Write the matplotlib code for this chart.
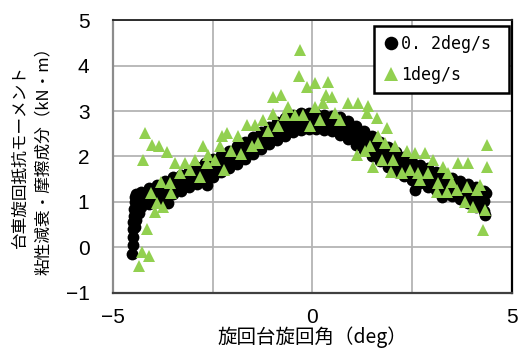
import matplotlib
matplotlib.use('Agg')
import matplotlib.pyplot as plt
from matplotlib.ticker import MultipleLocator


# ----- data -----
# 0.2deg/s : steep start at the left end
LEFT_X = [-4.52, -4.51, -4.50, -4.50, -4.49, -4.48, -4.47, -4.46, -4.45, -4.42,
          -4.40, -4.38, -4.36, -4.33, -4.30, -4.42, -4.44]
LEFT_Y = [-0.15, 0.05, 0.22, 0.40, 0.55, 0.70, 0.85, 1.00, 1.12, 1.18,
          1.05, 0.90, 0.75, 1.10, 0.95, 0.60, 0.45]

# 0.2deg/s : dense band (upper edge, middle, lower edge)
BAND_X = [-4.3, -4.1, -3.9, -3.7, -3.5, -3.3, -3.1, -2.9, -2.7, -2.5, -2.3,
          -2.1, -1.9, -1.7, -1.5, -1.3, -1.1, -0.9, -0.7, -0.5, -0.3, -0.1,
          0.1, 0.3, 0.5, 0.7, 0.9, 1.1, 1.3, 1.5, 1.7, 1.9, 2.1, 2.3, 2.5,
          2.7, 2.9, 3.1, 3.3, 3.5, 3.7, 3.9, 4.1, 4.3]
BAND_HI = [1.22, 1.30, 1.38, 1.46, 1.54, 1.60, 1.68, 1.76, 1.85, 1.94, 2.03,
           2.12, 2.22, 2.32, 2.43, 2.54, 2.65, 2.75, 2.85, 2.92, 2.96, 2.95,
           2.93, 2.92, 2.90, 2.86, 2.78, 2.66, 2.55, 2.44, 2.32, 2.20, 2.09,
           1.98, 1.89, 1.81, 1.74, 1.67, 1.60, 1.53, 1.46, 1.39, 1.32, 1.25]
BAND_MID = [1.05, 1.12, 1.20, 1.28, 1.36, 1.42, 1.50, 1.58, 1.66, 1.75, 1.84,
            1.93, 2.03, 2.13, 2.24, 2.35, 2.46, 2.56, 2.65, 2.73, 2.77, 2.77,
            2.76, 2.75, 2.72, 2.67, 2.58, 2.46, 2.35, 2.23, 2.11, 1.99, 1.88,
            1.78, 1.69, 1.61, 1.54, 1.47, 1.40, 1.33, 1.26, 1.18, 1.10, 1.02]
BAND_LO = [0.88, 0.95, 1.02, 1.10, 1.18, 1.25, 1.32, 1.40, 1.48, 1.56, 1.65,
           1.74, 1.84, 1.94, 2.05, 2.16, 2.27, 2.36, 2.45, 2.53, 2.58, 2.60,
           2.60, 2.58, 2.55, 2.48, 2.38, 2.26, 2.14, 2.02, 1.90, 1.78, 1.67,
           1.57, 1.48, 1.41, 1.34, 1.27, 1.20, 1.13, 1.06, 0.98, 0.89, 0.80]

# 0.2deg/s : a few loose points
LOOSE_X = [-2.64, 2.57, 3.24, 4.32, 4.35, -3.62]
LOOSE_Y = [1.37, 1.26, 1.12, 0.71, 1.20, 0.98]

# 1deg/s
FAST_X = [-4.20, -4.24, -4.01, -3.84, -3.65, -4.06, -3.90, -3.95, -3.74, -4.14,
          -4.28, -4.09, -4.34, -3.80, -3.55, -3.57, -3.45, -3.32, -3.20, -3.07,
          -2.94, -2.82, -2.75, -2.61, -2.65, -2.44, -2.32, -2.28, -2.15, -2.22,
          -2.03, -1.86, -1.78, -1.65, -1.52, -1.44, -1.36, -1.23, -1.11, -1.00,
          -0.79, -0.98, -0.86, -0.69, -0.61, -0.44, -0.31, -0.33, -0.15, 0.06,
          -0.06, -0.23, 0.06, 0.19, 0.27, 0.40, 0.34, 0.48, 0.56, 0.69,
          0.90, 1.15, 1.40, 1.36, 1.61, 1.86, 1.65, 1.82, 2.07, 1.11,
          1.32, 1.52, 1.44, 1.73, 2.03, 2.24, 2.36, 2.57, 2.82, 2.44,
          2.65, 2.90, 2.69, 3.03, 3.15, 3.28, 3.40, 3.65, 3.90, 3.49,
          3.61, 3.82, 3.86, 4.03, 4.12, 4.20, 4.37, 4.37, 4.32, 4.27,
          3.11, 3.36, 1.98]
FAST_Y = [2.51, 1.92, 2.25, 2.24, 2.09, 1.19, 0.97, 0.77, 0.90, 0.41,
          -0.11, -0.19, -0.41, 1.45, 1.20, 1.41, 1.85, 1.63, 1.85, 1.70,
          1.92, 1.56, 2.24, 2.03, 1.85, 1.92, 2.22, 2.45, 2.51, 1.70,
          2.11, 2.44, 2.05, 2.69, 2.22, 2.69, 2.29, 2.80, 2.55, 3.31,
          3.35, 2.93, 2.66, 2.91, 3.09, 2.91, 4.34, 3.77, 3.53, 3.61,
          2.66, 2.91, 3.09, 2.80, 3.17, 3.64, 3.35, 3.31, 2.95, 2.80,
          3.17, 3.17, 3.11, 2.95, 2.84, 2.62, 2.44, 2.29, 2.22, 2.03,
          2.11, 1.78, 2.22, 1.92, 1.92, 1.63, 2.11, 2.07, 2.07, 1.70,
          1.63, 1.63, 1.48, 1.92, 1.41, 1.78, 1.63, 1.85, 1.86, 1.45,
          1.26, 1.01, 1.34, 0.90, 1.26, 1.37, 2.25, 1.78, 0.82, 0.38,
          1.23, 1.23, 1.67]

SERIES_NAMES = ['0. 2deg/s', '1deg/s']
X_LABEL = '旋回台旋回角（deg）'
Y_LABEL_1 = '台車旋回抵抗モーメント'
Y_LABEL_2 = '粘性減衰・摩擦成分（kN・m）'

JP_FONT = ['Noto Sans CJK JP', 'DejaVu Sans']
NUM_FONT = ['Liberation Sans Narrow', 'Liberation Sans', 'DejaVu Sans']
BLACK = '#000000'
GREEN = '#92D050'

fig = plt.figure(figsize=(5.2, 3.56), dpi=100)
ax = fig.add_axes([0.2173, 0.177, 0.7673, 0.7668])

slow_x = LEFT_X + BAND_X + BAND_X + BAND_X + LOOSE_X
slow_y = LEFT_Y + BAND_HI + BAND_MID + BAND_LO + LOOSE_Y

ax.plot(slow_x, slow_y, 'o', color=BLACK, markersize=8.5, markeredgewidth=0,
        label=SERIES_NAMES[0], zorder=3)
ax.plot(FAST_X, FAST_Y, '^', color=GREEN, markersize=8.5, markeredgewidth=0,
        label=SERIES_NAMES[1], zorder=4)

ax.set_xlim(-5, 5)
ax.set_ylim(-1, 5)
ax.xaxis.set_major_locator(MultipleLocator(5))
ax.xaxis.set_minor_locator(MultipleLocator(2.5))
ax.yaxis.set_major_locator(MultipleLocator(1))
ax.grid(which='both', color='#b4b4b4', linewidth=1.3, zorder=0)
ax.set_axisbelow(True)
ax.tick_params(which='both', length=0)
ax.tick_params(axis='x', pad=10.5)
ax.tick_params(axis='y', pad=17)
for lab in ax.get_xticklabels() + ax.get_yticklabels():
    lab.set_family(NUM_FONT)
    lab.set_fontsize(15)

ax.spines['left'].set_color('#8c8c8c')
ax.spines['left'].set_linewidth(1.6)
ax.spines['bottom'].set_color('#404040')
ax.spines['bottom'].set_linewidth(1.6)
ax.spines['top'].set_color('#202020')
ax.spines['top'].set_linewidth(1.3)
ax.spines['right'].set_color('#000000')
ax.spines['right'].set_linewidth(1.6)

ax.set_xlabel(X_LABEL, family=JP_FONT, fontsize=14, labelpad=0)
fig.text(0.040, 0.56, Y_LABEL_1, rotation=90, family=JP_FONT, fontsize=12,
         ha='center', va='center')
fig.text(0.083, 0.56, Y_LABEL_2, rotation=90, family=JP_FONT, fontsize=12,
         ha='center', va='center')

leg = ax.legend(loc='upper left', bbox_to_anchor=(0.654, 0.751, 0.338, 0.227),
                mode='expand', prop={'family': ['DejaVu Sans Mono'], 'size': 12},
                handlelength=0.9, handletextpad=0.15, borderpad=0.55,
                labelspacing=0.75, fancybox=False, framealpha=1,
                borderaxespad=0, markerscale=1.15)
leg.get_frame().set_edgecolor('black')
leg.get_frame().set_linewidth(1.8)

fig.savefig('out.png', dpi=100)
